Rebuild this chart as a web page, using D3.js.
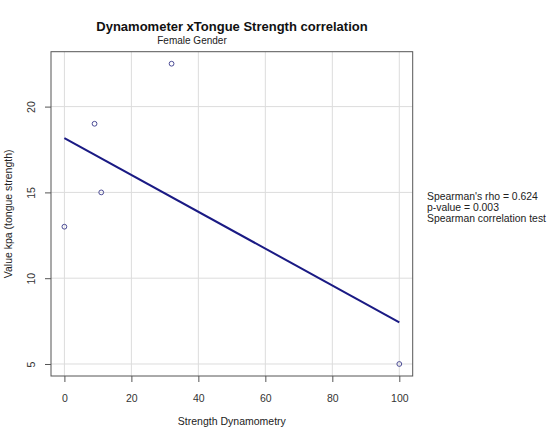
<!DOCTYPE html>
<html>
<head>
<meta charset="utf-8">
<script src="https://cdn.jsdelivr.net/npm/d3@7"></script>
<style>
  body { margin: 0; background: #fff; }
  svg { display: block; font-family: "Liberation Sans", Arial, sans-serif; }
</style>
</head>
<body>
<div id="chart_div"></div>
<script>
// data
var dynamometry = [0, 9, 11, 32, 100];
var tongue_kpa = [13, 19, 15, 22.5, 5];
var x_ticks = [0, 20, 40, 60, 80, 100];
var y_ticks = [5, 10, 15, 20];
var stats_lines = ["Spearman's rho = 0.624", "p-value = 0.003", "Spearman correlation test"];

function draw_chart() {
    var width = 558, height = 443;
    var plot = {left: 51, right: 412.7, top: 51.7, bottom: 376};

    var svg = d3.select('#chart_div')
        .append('svg')
        .attr('width', width)
        .attr('height', height);

    // R style 4% padding on the axes
    var x_ext = d3.extent(dynamometry), y_ext = d3.extent(tongue_kpa);
    var x_pad = (x_ext[1] - x_ext[0]) * 0.04, y_pad = (y_ext[1] - y_ext[0]) * 0.04;

    var x = d3.scaleLinear()
        .domain([x_ext[0] - x_pad, x_ext[1] + x_pad])
        .range([plot.left, plot.right]);
    var y = d3.scaleLinear()
        .domain([y_ext[0] - y_pad, y_ext[1] + y_pad])
        .range([plot.bottom, plot.top]);

    // grid
    svg.append('g').selectAll('line.vx')
        .data(x_ticks).enter().append('line')
        .attr('x1', d => x(d)).attr('x2', d => x(d))
        .attr('y1', plot.top).attr('y2', plot.bottom)
        .attr('stroke', '#dcdcdc').attr('stroke-width', 1);
    svg.append('g').selectAll('line.hy')
        .data(y_ticks).enter().append('line')
        .attr('x1', plot.left).attr('x2', plot.right)
        .attr('y1', d => y(d)).attr('y2', d => y(d))
        .attr('stroke', '#dcdcdc').attr('stroke-width', 1);

    // axes
    var x_axis = svg.append('g')
        .attr('transform', `translate(0, ${plot.bottom})`)
        .call(d3.axisBottom(x).tickValues(x_ticks).tickSize(6).tickPadding(8));
    var y_axis = svg.append('g')
        .attr('transform', `translate(${plot.left}, 0)`)
        .call(d3.axisLeft(y).tickValues(y_ticks).tickSize(6).tickPadding(8));

    [x_axis, y_axis].forEach(function(ax) {
        ax.select('.domain').remove();
        ax.selectAll('line').attr('stroke', '#555');
        ax.selectAll('text').attr('fill', '#333').style('font-size', '10.5px')
            .style('font-family', '"Liberation Sans", Arial, sans-serif');
    });
    x_axis.selectAll('text').attr('dy', '1.1em');
    // R draws y tick labels parallel to the axis
    y_axis.selectAll('text')
        .attr('text-anchor', 'middle')
        .attr('x', -19.3).attr('y', 0).attr('dy', '0.35em')
        .attr('transform', 'rotate(-90, -19.3, 0)');

    // plot box
    svg.append('rect')
        .attr('x', plot.left).attr('y', plot.top)
        .attr('width', plot.right - plot.left)
        .attr('height', plot.bottom - plot.top)
        .attr('fill', 'none').attr('stroke', '#555').attr('stroke-width', 1);

    // least squares fit
    var mx = d3.mean(dynamometry), my = d3.mean(tongue_kpa);
    var sxy = d3.sum(dynamometry, (d, i) => (d - mx) * (tongue_kpa[i] - my));
    var sxx = d3.sum(dynamometry, d => (d - mx) * (d - mx));
    var slope = sxy / sxx, intercept = my - slope * mx;

    svg.append('line')
        .attr('x1', x(x_ext[0])).attr('y1', y(intercept + slope * x_ext[0]))
        .attr('x2', x(x_ext[1])).attr('y2', y(intercept + slope * x_ext[1]))
        .attr('stroke', '#1a1a84').attr('stroke-width', 2);

    // points
    svg.append('g').selectAll('circle')
        .data(dynamometry).enter().append('circle')
        .attr('cx', d => x(d))
        .attr('cy', (d, i) => y(tongue_kpa[i]))
        .attr('r', 2.4)
        .attr('fill', 'none')
        .attr('stroke', '#3a3a8a')
        .attr('stroke-width', 0.9);

    // titles
    svg.append('text')
        .attr('x', 232).attr('y', 31)
        .attr('text-anchor', 'middle')
        .style('font-weight', 700).style('font-size', '13px')
        .attr('fill', '#111')
        .text('Dynamometer xTongue Strength correlation');

    svg.append('text')
        .attr('x', 192).attr('y', 44)
        .attr('text-anchor', 'middle')
        .style('font-size', '10px').attr('fill', '#222')
        .text('Female Gender');

    svg.append('text')
        .attr('x', (plot.left + plot.right) / 2).attr('y', 425)
        .attr('text-anchor', 'middle')
        .style('font-size', '10.5px').attr('fill', '#222')
        .text('Strength Dynamometry');

    svg.append('text')
        .attr('transform', `translate(12, ${(plot.top + plot.bottom) / 2}) rotate(-90)`)
        .attr('text-anchor', 'middle')
        .style('font-size', '10.5px').attr('fill', '#222')
        .text('Value kpa (tongue strength)');

    // test annotation
    svg.append('g').selectAll('text')
        .data(stats_lines).enter().append('text')
        .attr('x', 427)
        .attr('y', (d, i) => 200 + i * 11)
        .style('font-size', '10.4px').attr('fill', '#222')
        .text(d => d);
}

document.addEventListener('DOMContentLoaded', draw_chart);
</script>
</body>
</html>
